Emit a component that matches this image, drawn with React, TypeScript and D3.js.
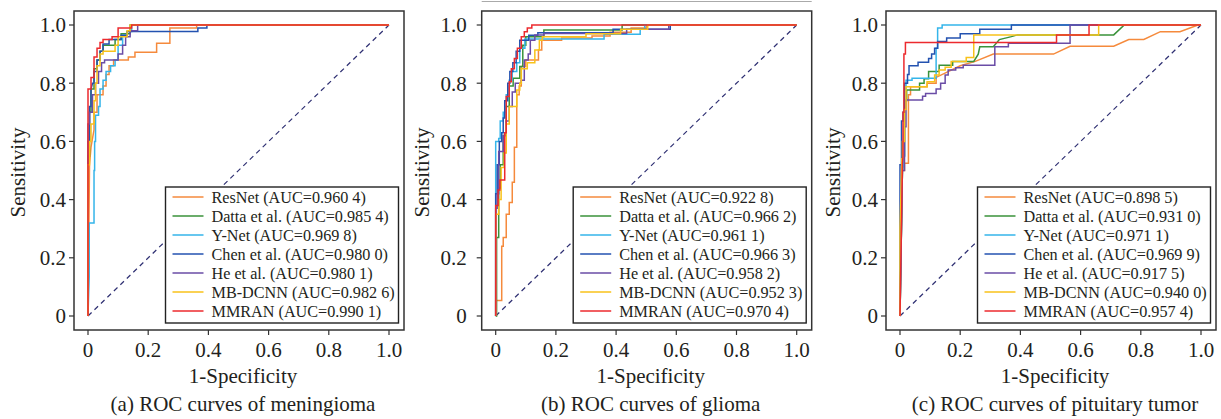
import React from "react";
import * as d3 from "d3";

type Pt = [number, number];

const models = ["ResNet", "Datta et al.", "Y-Net", "Chen et al.", "He et al.", "MB-DCNN", "MMRAN"];
const colors = ["#f58a3c", "#3a923a", "#35b5ea", "#2352b0", "#6a4ca6", "#f8c21a", "#ec2a2e"];
const tickValues = [0, 0.2, 0.4, 0.6, 0.8, 1.0];
const tickLabels = ["0", "0.2", "0.4", "0.6", "0.8", "1.0"];

const aucA = ["0.960 4", "0.985 4", "0.969 8", "0.980 0", "0.980 1", "0.982 6", "0.990 1"];
const aucB = ["0.922 8", "0.966 2", "0.961 1", "0.966 3", "0.958 2", "0.952 3", "0.970 4"];
const aucC = ["0.898 5", "0.931 0", "0.971 1", "0.969 9", "0.917 5", "0.940 0", "0.957 4"];

// (a) meningioma
const menResNet: Pt[] = [[0,0],[0.005,0.52],[0.01,0.58],[0.02,0.64],[0.02,0.7],[0.03,0.7],[0.03,0.76],[0.05,0.76],[0.05,0.79],[0.06,0.79],[0.06,0.83],[0.07,0.83],[0.07,0.86],[0.085,0.86],[0.085,0.88],[0.134,0.88],[0.134,0.89],[0.156,0.89],[0.156,0.906],[0.228,0.906],[0.228,0.937],[0.272,0.937],[0.272,0.99],[0.361,0.99],[0.361,1],[1,1]];
const menDatta: Pt[] = [[0,0],[0,0.55],[0.005,0.55],[0.005,0.7],[0.01,0.7],[0.01,0.78],[0.02,0.78],[0.02,0.85],[0.03,0.85],[0.03,0.88],[0.04,0.88],[0.04,0.91],[0.05,0.91],[0.05,0.93],[0.09,0.93],[0.09,0.95],[0.11,0.95],[0.11,0.97],[0.14,0.97],[0.14,1],[1,1]];
const menYNet: Pt[] = [[0,0],[0.004,0.135],[0.004,0.32],[0.02,0.32],[0.02,0.5],[0.022,0.5],[0.022,0.6],[0.025,0.6],[0.025,0.69],[0.035,0.69],[0.035,0.72],[0.04,0.72],[0.04,0.78],[0.05,0.78],[0.05,0.81],[0.06,0.81],[0.06,0.84],[0.075,0.84],[0.075,0.86],[0.09,0.86],[0.09,0.88],[0.1,0.88],[0.1,0.93],[0.115,0.93],[0.115,0.965],[0.13,0.965],[0.13,0.978],[0.145,0.978],[0.145,1],[1,1]];
const menChen: Pt[] = [[0,0],[0,0.6],[0.005,0.6],[0.005,0.72],[0.01,0.72],[0.01,0.78],[0.015,0.8],[0.02,0.8],[0.02,0.84],[0.03,0.84],[0.03,0.88],[0.04,0.88],[0.04,0.91],[0.05,0.91],[0.05,0.935],[0.07,0.935],[0.07,0.95],[0.11,0.95],[0.11,0.965],[0.13,0.965],[0.13,0.978],[0.365,0.978],[0.365,0.99],[0.395,0.99],[0.395,1],[1,1]];
const menHe: Pt[] = [[0,0],[0,0.66],[0.005,0.66],[0.005,0.7],[0.015,0.7],[0.015,0.76],[0.025,0.76],[0.025,0.8],[0.035,0.8],[0.035,0.84],[0.045,0.84],[0.045,0.87],[0.055,0.87],[0.055,0.88],[0.1,0.88],[0.1,0.9],[0.115,0.9],[0.115,0.93],[0.125,0.93],[0.125,0.96],[0.14,0.96],[0.14,0.98],[0.165,0.98],[0.165,1],[1,1]];
const menMB: Pt[] = [[0,0],[0,0.52],[0.005,0.52],[0.005,0.6],[0.01,0.6],[0.01,0.66],[0.02,0.66],[0.02,0.74],[0.025,0.74],[0.025,0.8],[0.03,0.8],[0.03,0.86],[0.04,0.86],[0.04,0.9],[0.05,0.9],[0.05,0.91],[0.09,0.91],[0.09,0.93],[0.1,0.93],[0.1,0.96],[0.13,0.96],[0.13,0.98],[0.14,0.98],[0.14,1],[1,1]];
const menMMRAN: Pt[] = [[0,0],[0,0.78],[0.01,0.78],[0.01,0.82],[0.02,0.82],[0.02,0.89],[0.03,0.89],[0.03,0.92],[0.04,0.92],[0.04,0.94],[0.05,0.94],[0.05,0.95],[0.08,0.95],[0.08,0.96],[0.1,0.96],[0.1,0.99],[0.145,0.99],[0.145,1],[1,1]];

// (b) glioma
const gliResNet: Pt[] = [[0,0],[0,0.053],[0.02,0.053],[0.02,0.24],[0.025,0.24],[0.025,0.27],[0.035,0.27],[0.035,0.35],[0.045,0.35],[0.045,0.39],[0.055,0.39],[0.055,0.46],[0.062,0.46],[0.062,0.58],[0.07,0.58],[0.07,0.76],[0.078,0.76],[0.078,0.79],[0.085,0.79],[0.085,0.857],[0.1,0.857],[0.1,0.88],[0.142,0.88],[0.142,0.914],[0.153,0.914],[0.153,0.948],[0.219,0.948],[0.219,0.955],[0.32,0.955],[0.32,0.962],[0.38,0.962],[0.38,0.975],[0.45,0.975],[0.45,0.99],[0.5,0.99],[0.5,1],[1,1]];
const gliDatta: Pt[] = [[0,0],[0.003,0],[0.003,0.27],[0.01,0.27],[0.01,0.44],[0.015,0.44],[0.015,0.52],[0.025,0.52],[0.025,0.62],[0.035,0.62],[0.035,0.72],[0.045,0.72],[0.045,0.79],[0.058,0.79],[0.058,0.817],[0.08,0.817],[0.08,0.857],[0.09,0.857],[0.09,0.93],[0.1,0.93],[0.1,0.96],[0.16,0.96],[0.16,0.983],[0.42,0.983],[0.42,1],[1,1]];
const gliYNet: Pt[] = [[0,0],[0,0.6],[0.01,0.6],[0.01,0.61],[0.015,0.61],[0.015,0.67],[0.025,0.67],[0.025,0.7],[0.035,0.7],[0.035,0.76],[0.045,0.76],[0.045,0.81],[0.055,0.81],[0.055,0.84],[0.07,0.84],[0.07,0.87],[0.08,0.87],[0.08,0.92],[0.097,0.92],[0.097,0.952],[0.36,0.952],[0.36,0.968],[0.48,0.968],[0.48,0.985],[0.495,0.985],[0.495,1],[1,1]];
const gliChen: Pt[] = [[0,0],[0,0.42],[0.005,0.42],[0.005,0.52],[0.012,0.52],[0.012,0.6],[0.02,0.6],[0.02,0.63],[0.025,0.63],[0.025,0.68],[0.03,0.68],[0.03,0.74],[0.04,0.74],[0.04,0.8],[0.047,0.8],[0.047,0.84],[0.057,0.84],[0.057,0.87],[0.068,0.87],[0.068,0.91],[0.08,0.91],[0.08,0.948],[0.11,0.948],[0.11,0.965],[0.14,0.965],[0.14,0.973],[0.39,0.973],[0.39,0.985],[0.58,0.985],[0.58,1],[1,1]];
const gliHe: Pt[] = [[0,0],[0,0.37],[0.005,0.37],[0.005,0.42],[0.01,0.42],[0.01,0.565],[0.025,0.565],[0.025,0.62],[0.035,0.62],[0.035,0.67],[0.045,0.67],[0.045,0.72],[0.055,0.72],[0.055,0.77],[0.065,0.77],[0.065,0.8],[0.085,0.8],[0.085,0.81],[0.095,0.81],[0.095,0.88],[0.108,0.88],[0.108,0.9],[0.115,0.9],[0.115,0.948],[0.13,0.948],[0.13,0.966],[0.16,0.966],[0.16,0.971],[0.435,0.971],[0.435,0.985],[0.575,0.985],[0.575,1],[1,1]];
const gliMB: Pt[] = [[0,0],[0,0.35],[0.01,0.35],[0.01,0.4],[0.018,0.4],[0.018,0.51],[0.028,0.51],[0.028,0.56],[0.035,0.56],[0.035,0.66],[0.045,0.66],[0.045,0.72],[0.07,0.72],[0.07,0.777],[0.08,0.777],[0.08,0.8],[0.085,0.8],[0.085,0.85],[0.105,0.85],[0.105,0.87],[0.13,0.87],[0.13,0.914],[0.145,0.914],[0.145,0.948],[0.155,0.948],[0.155,0.96],[0.3,0.96],[0.3,0.97],[0.415,0.97],[0.415,0.985],[0.505,0.985],[0.505,1],[1,1]];
const gliMMRAN: Pt[] = [[0,0],[0,0.38],[0.008,0.38],[0.008,0.433],[0.014,0.433],[0.014,0.467],[0.03,0.467],[0.03,0.63],[0.035,0.63],[0.035,0.754],[0.045,0.754],[0.045,0.805],[0.052,0.805],[0.052,0.85],[0.062,0.85],[0.062,0.885],[0.072,0.885],[0.072,0.92],[0.085,0.92],[0.085,0.96],[0.095,0.96],[0.095,0.977],[0.105,0.977],[0.105,0.99],[0.12,0.99],[0.12,1],[1,1]];

// (c) pituitary tumor
const pitResNet: Pt[] = [[0,0],[0.008,0.5],[0.015,0.5],[0.015,0.525],[0.028,0.525],[0.028,0.76],[0.035,0.76],[0.035,0.788],[0.09,0.788],[0.09,0.8],[0.12,0.8],[0.12,0.82],[0.16,0.84],[0.2,0.86],[0.25,0.875],[0.31,0.9],[0.51,0.9],[0.565,0.927],[0.71,0.927],[0.76,0.95],[0.81,0.95],[0.865,0.977],[0.93,0.977],[0.99,1],[1,1]];
const pitDatta: Pt[] = [[0,0],[0.008,0.5],[0.015,0.55],[0.015,0.74],[0.022,0.74],[0.022,0.777],[0.065,0.777],[0.065,0.8],[0.08,0.8],[0.08,0.815],[0.095,0.815],[0.095,0.84],[0.13,0.84],[0.13,0.862],[0.175,0.862],[0.175,0.875],[0.245,0.875],[0.26,0.9],[0.265,0.925],[0.31,0.925],[0.33,0.95],[0.37,0.96],[0.39,0.966],[0.71,0.966],[0.745,1],[1,1]];
const pitYNet: Pt[] = [[0,0],[0.008,0.5],[0.015,0.55],[0.015,0.78],[0.02,0.78],[0.02,0.81],[0.04,0.81],[0.04,0.817],[0.12,0.817],[0.12,0.92],[0.125,0.92],[0.125,0.99],[0.14,0.99],[0.14,1],[1,1]];
const pitChen: Pt[] = [[0,0],[0,0.52],[0.005,0.52],[0.005,0.67],[0.01,0.67],[0.01,0.7],[0.015,0.7],[0.015,0.8],[0.025,0.8],[0.025,0.83],[0.03,0.83],[0.03,0.86],[0.06,0.86],[0.06,0.872],[0.095,0.872],[0.095,0.885],[0.105,0.885],[0.105,0.9],[0.115,0.9],[0.115,0.92],[0.125,0.92],[0.125,0.943],[0.155,0.943],[0.155,0.955],[0.2,0.955],[0.2,0.97],[0.265,0.97],[0.265,0.985],[0.37,0.985],[0.37,1],[1,1]];
const pitHe: Pt[] = [[0,0],[0.008,0.5],[0.015,0.5],[0.015,0.65],[0.02,0.65],[0.02,0.742],[0.075,0.742],[0.075,0.755],[0.085,0.755],[0.085,0.765],[0.12,0.765],[0.12,0.78],[0.135,0.78],[0.135,0.8],[0.15,0.8],[0.15,0.828],[0.16,0.828],[0.16,0.845],[0.185,0.845],[0.185,0.853],[0.21,0.853],[0.21,0.862],[0.315,0.862],[0.315,0.925],[0.36,0.925],[0.36,0.937],[0.565,0.937],[0.565,1],[1,1]];
const pitMB: Pt[] = [[0,0],[0,0.3],[0.006,0.54],[0.008,0.54],[0.008,0.6],[0.015,0.6],[0.015,0.71],[0.02,0.71],[0.02,0.788],[0.09,0.788],[0.09,0.805],[0.115,0.805],[0.115,0.828],[0.13,0.828],[0.13,0.845],[0.15,0.845],[0.15,0.855],[0.17,0.855],[0.17,0.875],[0.22,0.875],[0.22,0.888],[0.245,0.888],[0.245,0.966],[0.66,0.966],[0.66,1],[1,1]];
const pitMMRAN: Pt[] = [[0,0],[0.008,0.52],[0.01,0.55],[0.01,0.7],[0.013,0.7],[0.013,0.9],[0.018,0.9],[0.018,0.94],[0.52,0.94],[0.52,0.966],[0.628,0.966],[0.628,1],[1,1]];

const panels = [
  { x0: 88, caption: "(a) ROC curves of meningioma", auc: aucA, yGap: 8, yLabelX: 25,
    curves: [menResNet, menDatta, menYNet, menChen, menHe, menMB, menMMRAN] },
  { x0: 495.7, caption: "(b) ROC curves of glioma", auc: aucB, yGap: 15, yLabelX: 429,
    curves: [gliResNet, gliDatta, gliYNet, gliChen, gliHe, gliMB, gliMMRAN] },
  { x0: 900, caption: "(c) ROC curves of pituitary tumor", auc: aucC, yGap: 8, yLabelX: 840,
    curves: [pitResNet, pitDatta, pitYNet, pitChen, pitHe, pitMB, pitMMRAN] },
];

const W = 1221;
const H = 419;
const font = "'Liberation Serif', 'Times New Roman', serif";
const ink = "#231f20";

function Panel({ p, top }: { p: typeof panels[number]; top?: boolean }) {
  const x = d3.scaleLinear().domain([0, 1]).range([p.x0, p.x0 + 301]);
  const y = d3.scaleLinear().domain([0, 1]).range([316, 25]);
  const fl = x(0) - 14, fr = x(1) + 15, ft = y(1) - 14, fb = y(0) + 14;
  const line = d3.line<Pt>().x(d => x(d[0])).y(d => y(d[1]));
  const cx = (fl + fr) / 2 + 4;
  const lw = 233, lh = 136;
  const lx = fr - 5.5 - lw, ly = 187;
  return (
    <g>
      {top && <line x1={fl} x2={fr} y1={1.5} y2={1.5} stroke="#aaa" strokeWidth={1} />}
      <line x1={x(0)} y1={y(0)} x2={x(1)} y2={y(1)} stroke="#2e2f72" strokeWidth={1.2} strokeDasharray="5,4" />
      {p.curves.map((c, i) => (
        <path key={i} d={line(c) || ""} fill="none" stroke={colors[i]} strokeWidth={1.5} strokeLinejoin="miter" />
      ))}
      <rect x={fl} y={ft} width={fr - fl} height={fb - ft} fill="none" stroke="#333" strokeWidth={1.5} />
      {tickValues.map((t, i) => (
        <g key={"x" + i}>
          <line x1={x(t)} x2={x(t)} y1={fb} y2={fb + 5} stroke="#333" strokeWidth={1.2} />
          <text x={x(t)} y={357} textAnchor="middle" fontSize={21} fontFamily={font} fill={ink}>{tickLabels[i]}</text>
          <line x1={fl - 5} x2={fl} y1={y(t)} y2={y(t)} stroke="#333" strokeWidth={1.2} />
          <text x={fl - p.yGap} y={y(t)} dy="0.35em" textAnchor="end" fontSize={21} fontFamily={font} fill={ink}>{tickLabels[i]}</text>
        </g>
      ))}
      <text x={cx} y={383} textAnchor="middle" fontSize={21} fontFamily={font} fill={ink}>1-Specificity</text>
      <text x={cx} y={411} textAnchor="middle" fontSize={21} fontFamily={font} fill={ink}>{p.caption}</text>
      <text transform={`translate(${p.yLabelX},${(y(0) + y(1)) / 2 + 2}) rotate(-90)`} textAnchor="middle" fontSize={21} fontFamily={font} fill={ink}>Sensitivity</text>
      <rect x={lx} y={ly} width={lw} height={lh} fill="#fff" stroke="#222" strokeWidth={1.4} />
      {models.map((m, i) => (
        <g key={"l" + i}>
          <line x1={lx + 7} x2={lx + 38} y1={ly + 10 + i * 19} y2={ly + 10 + i * 19} stroke={colors[i]} strokeWidth={1.5} />
          <text x={lx + 46} y={ly + 10 + i * 19} dy="0.35em" fontSize={16.2} fontFamily={font} fill={ink}>{`${m} (AUC=${p.auc[i]})`}</text>
        </g>
      ))}
    </g>
  );
}

export default function App() {
  return (
    <div style={{ position: "absolute", left: 0, top: 0 }}>
      <svg width={W} height={H} style={{ display: "block", background: "#fff" }}>
        {panels.map((p, i) => <Panel key={i} p={p} top={i === 1} />)}
      </svg>
    </div>
  );
}
